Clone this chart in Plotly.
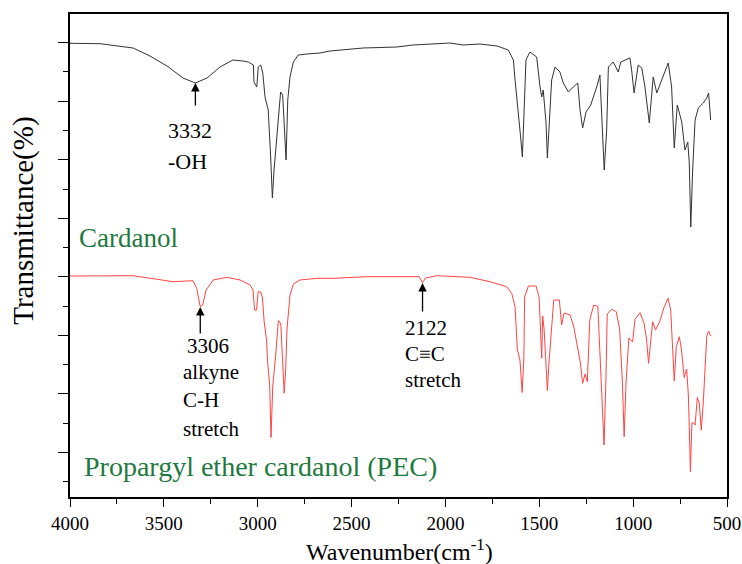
import plotly.graph_objects as go

# Wavenumber (cm^-1) and transmittance (offset, arbitrary units)
cardanol_wn = [4000, 3840, 3664, 3574, 3483, 3398, 3332, 3270, 3201, 3132,
               3078, 3050, 3023, 3020, 3005, 2997, 2984, 2973, 2961, 2944,
               2931, 2922, 2913, 2899, 2885, 2878, 2867, 2858, 2849, 2840,
               2828, 2810, 2784, 2739, 2668, 2615, 2439, 2258, 2173, 1976,
               1906, 1816, 1725, 1665, 1638, 1629, 1612, 1599, 1590, 1581,
               1571, 1550, 1514, 1496, 1487, 1479, 1464, 1457, 1447, 1434,
               1416, 1390, 1372, 1345, 1319, 1295, 1283, 1269, 1251, 1226,
               1194, 1177, 1168, 1154, 1141, 1132, 1106, 1079, 1066, 1017,
               1008, 995, 973, 954, 937, 914, 893, 874, 848, 813,
               795, 781, 765, 741, 724, 709, 701, 693, 683, 670,
               653, 626, 608, 598, 587]
cardanol_t = [456.7, 456.3, 452, 444, 434, 422, 417, 422, 433, 440,
              439, 438, 435, 418, 413, 433, 435, 427, 403, 390,
              343, 302, 330, 363, 393, 408, 405, 370, 340, 400,
              423, 438, 445, 446, 447, 449, 452, 453, 455, 457,
              455, 456, 454, 450, 440, 420, 390, 362, 343, 400,
              440, 448, 443, 413, 403, 410, 377, 342, 380, 420,
              433, 428, 417, 408, 413, 417, 390, 372, 388, 395,
              413, 425, 387, 330, 370, 433, 438, 428, 438, 442,
              430, 407, 435, 432, 413, 377, 423, 407, 420, 437,
              413, 352, 395, 378, 350, 358, 337, 273, 330, 380,
              392, 397, 402, 407, 380]

pec_wn = [4000, 3664, 3451, 3345, 3325, 3306, 3293, 3275, 3237, 3165,
          3094, 3041, 3025, 3017, 3006, 2998, 2984, 2975, 2966, 2953,
          2948, 2936, 2929, 2920, 2905, 2890, 2877, 2867, 2859, 2851,
          2844, 2828, 2810, 2775, 2686, 2597, 2419, 2140, 2122, 2105,
          2046, 1869, 1763, 1674, 1647, 1629, 1617, 1603, 1591, 1582,
          1578, 1558, 1517, 1501, 1493, 1487, 1482, 1474, 1464, 1457,
          1448, 1434, 1423, 1393, 1381, 1368, 1336, 1317, 1299, 1281,
          1269, 1256, 1244, 1231, 1210, 1188, 1178, 1168, 1155, 1145,
          1138, 1114, 1090, 1072, 1057, 1048, 1038, 1023, 1003, 990,
          963, 942, 928, 918, 906, 896, 881, 859, 837, 814,
          800, 792, 781, 770, 754, 743, 728, 715, 706, 701,
          695, 687, 677, 670, 658, 648, 637, 626, 615, 608,
          598, 587]
pec_t = [224, 224.3, 218.3, 219.3, 211.7, 193.3, 195, 210, 220, 222.7,
         220, 215, 210, 190, 190, 208.3, 208, 202, 179, 160,
         140, 113.3, 62.5, 113.3, 143.3, 179.5, 176, 142, 106.7, 130,
         171, 205, 216, 220, 221.7, 221.7, 223.3, 223.3, 217.3, 222,
         224.3, 222.7, 218.3, 213.3, 206.7, 193.3, 151, 140, 107.5, 143.3,
         203, 214, 214, 203, 155, 141.7, 184, 170, 135, 109.5,
         138, 172, 200, 200, 175, 187, 185, 174, 156.7, 137,
         116.7, 126, 118.3, 180, 195, 193.7, 151.7, 103.3, 55, 120,
         186, 190.7, 188.3, 171, 116.7, 63.3, 116.7, 162, 158, 181,
         187.3, 176.7, 160, 136.7, 163.3, 178.3, 170, 178, 192, 201.7,
         190, 153.3, 119, 153.3, 163.3, 151, 122.5, 131, 105, 73.3,
         28.3, 77, 77, 75, 102.5, 97, 70, 99, 143, 163.3,
         169, 164]

x_ticks = [4000, 3500, 3000, 2500, 2000, 1500, 1000, 500]

FONT = "Liberation Serif"
GREEN = "#1e7a3e"

fig = go.Figure()
fig.add_trace(go.Scatter(x=cardanol_wn, y=cardanol_t, mode="lines",
                         line=dict(color="#333333", width=1), showlegend=False))
fig.add_trace(go.Scatter(x=pec_wn, y=pec_t, mode="lines",
                         line=dict(color="#ff4444", width=1), showlegend=False))

ann = []
def txt(x, y, s, anchor="left", size=22, color="black"):
    ann.append(dict(x=x, y=y, xref="x", yref="y", text=s, showarrow=False,
                    xanchor=anchor, yanchor="middle",
                    font=dict(family=FONT, size=size, color=color)))

def arrow(x, y_head, y_tail):
    ann.append(dict(x=x, y=y_head, ax=x, ay=y_tail, xref="x", yref="y",
                    axref="x", ayref="y", text="", showarrow=True,
                    arrowhead=2, arrowsize=1.3, arrowwidth=1.3,
                    arrowcolor="black", standoff=0, startstandoff=0))

txt(3363, 370, "3332", "center")
txt(3486, 339, "-OH")
arrow(3332, 417, 393)

txt(3267, 154, "3306", "center", size=21)
txt(3409, 128.5, "alkyne", size=21)
txt(3409, 100, "C-H", size=21)
txt(3409, 71, "stretch", size=21)
arrow(3306, 193, 165)

txt(2226, 172, "2122", size=21)
txt(2226, 146, "C≡C", size=21)
txt(2226, 120, "stretch", size=21)
arrow(2122, 217, 187)

txt(3963, 262, "Cardanol", size=27, color=GREEN)
txt(3936, 34, "Propargyl ether cardanol (PEC)", size=28, color=GREEN)

# axis titles
ann.append(dict(x=0.5008, y=-0.11, xref="paper", yref="paper",
                text="Wavenumber(cm<sup>-1</sup>)", showarrow=False,
                xanchor="center", yanchor="middle",
                font=dict(family=FONT, size=24, color="black")))
ann.append(dict(x=-0.070, y=0.572, xref="paper", yref="paper",
                text="Transmittance(%)", showarrow=False, textangle=-90,
                xanchor="center", yanchor="middle",
                font=dict(family=FONT, size=29, color="black")))

fig.update_layout(
    width=742, height=564,
    margin=dict(l=70, r=15, t=14, b=67, autoexpand=False),
    paper_bgcolor="white", plot_bgcolor="white",
    annotations=ann,
    font=dict(family=FONT, color="black"),
)
fig.update_xaxes(range=[4000, 500], tickvals=x_ticks, ticks="outside", ticklen=8,
                 tickwidth=1.3, tickcolor="black", automargin=False,
                 minor=dict(dtick=250, ticks="outside", ticklen=5, tickwidth=1.3, tickcolor="black"),
                 showline=True, linecolor="black", linewidth=1.5, mirror=True,
                 showgrid=False, zeroline=False,
                 tickfont=dict(family=FONT, size=19, color="black"))
fig.update_yaxes(range=[3, 486], tickmode="linear", tick0=47.7, dtick=58.54,
                 ticks="outside", ticklen=10, tickwidth=1.3, tickcolor="black",
                 minor=dict(tick0=18.3, dtick=29.27, ticks="outside", ticklen=5,
                            tickwidth=1.3, tickcolor="black"),
                 showticklabels=False, automargin=False,
                 showline=True, linecolor="black", linewidth=1.5, mirror=True,
                 showgrid=False, zeroline=False)

fig.write_html("out.html", config={"displayModeBar": False},
               post_script="document.body.style.margin='0';document.body.style.padding='0';")
